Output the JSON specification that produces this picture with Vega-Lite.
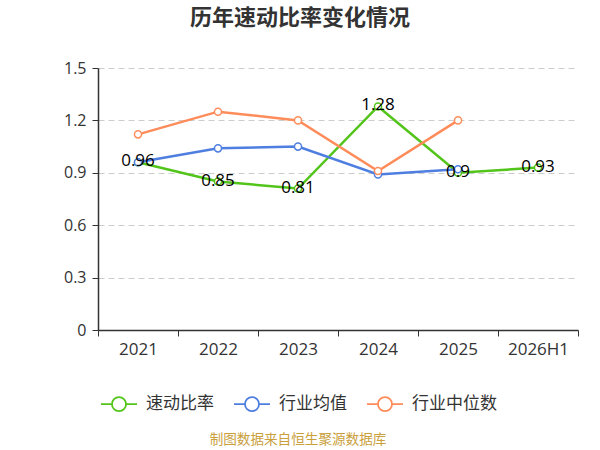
{
  "$schema": "https://vega.github.io/schema/vega-lite/v6.json",
  "width": 480,
  "height": 262,
  "autosize": "none",
  "padding": {"left": 98, "top": 68, "right": 22, "bottom": 120},
  "background": "white",
  "title": {
    "text": "历年速动比率变化情况",
    "fontSize": 22,
    "fontWeight": "bold",
    "color": "#333333",
    "font": "Noto Sans CJK SC",
    "anchor": "middle",
    "dx": -38,
    "offset": 30
  },
  "config": {
    "font": "Noto Sans CJK SC",
    "view": {"stroke": null}
  },
  "data": {
    "values": [
      {"year": "2021", "series": "速动比率", "value": 0.96},
      {"year": "2022", "series": "速动比率", "value": 0.85},
      {"year": "2023", "series": "速动比率", "value": 0.81},
      {"year": "2024", "series": "速动比率", "value": 1.28},
      {"year": "2025", "series": "速动比率", "value": 0.9},
      {"year": "2026H1", "series": "速动比率", "value": 0.93},
      {"year": "2021", "series": "行业均值", "value": 0.96},
      {"year": "2022", "series": "行业均值", "value": 1.04},
      {"year": "2023", "series": "行业均值", "value": 1.05},
      {"year": "2024", "series": "行业均值", "value": 0.89},
      {"year": "2025", "series": "行业均值", "value": 0.92},
      {"year": "2021", "series": "行业中位数", "value": 1.12},
      {"year": "2022", "series": "行业中位数", "value": 1.25},
      {"year": "2023", "series": "行业中位数", "value": 1.2},
      {"year": "2024", "series": "行业中位数", "value": 0.91},
      {"year": "2025", "series": "行业中位数", "value": 1.2}
    ]
  },
  "encoding": {
    "x": {
      "field": "year",
      "type": "ordinal",
      "bandPosition": 0.5,
      "scale": {"type": "band", "paddingInner": 0, "paddingOuter": 0},
      "axis": {
        "title": null,
        "labelAngle": 0,
        "labelFont": "Open Sans",
        "labelFontSize": 17,
        "labelColor": "#333333",
        "labelPadding": 5,
        "tickBand": "extent",
        "tickSize": 6,
        "tickColor": "#333333",
        "domainColor": "#333333",
        "domainWidth": 1.5,
        "grid": false
      }
    },
    "y": {
      "field": "value",
      "type": "quantitative",
      "scale": {"domain": [0, 1.5], "nice": false},
      "axis": {
        "title": null,
        "values": [0, 0.3, 0.6, 0.9, 1.2, 1.5],
        "format": ".1~f",
        "labelFont": "Open Sans",
        "labelFontSize": 16,
        "labelColor": "#333333",
        "labelPadding": 6,
        "tickSize": 6,
        "tickColor": "#333333",
        "domainColor": "#333333",
        "domainWidth": 1.5,
        "grid": true,
        "gridDash": [6, 4],
        "gridColor": "#cccccc"
      }
    },
    "color": {
      "field": "series",
      "type": "nominal",
      "scale": {
        "domain": ["速动比率", "行业均值", "行业中位数"],
        "range": ["#52c41a", "#4e7ee0", "#fe8c5b"]
      },
      "legend": {
        "orient": "none",
        "legendX": 2,
        "legendY": 317,
        "direction": "horizontal",
        "padding": 0,
        "title": "制图数据来自恒生聚源数据库",
        "titleOrient": "bottom",
        "titleAnchor": "middle",
        "titleFontSize": 13.6,
        "titleFontWeight": "normal",
        "titleColor": "#c9a03c",
        "titlePadding": 18,
        "labelFontSize": 17,
        "labelColor": "#333333",
        "labelOffset": 8,
        "columnPadding": 16,
        "symbolType": "M-1,0H-0.39M0.39,0A0.39,0.39 0 1,1 -0.39,0A0.39,0.39 0 1,1 0.39,0M0.39,0H1",
        "symbolSize": 1296,
        "symbolStrokeWidth": 1.8,
        "symbolFillColor": "white"
      }
    }
  },
  "layer": [
    {
      "mark": {"type": "line", "strokeWidth": 2.5}
    },
    {
      "mark": {"type": "point", "filled": false, "fill": "white", "size": 50, "strokeWidth": 1.5, "opacity": 1}
    },
    {
      "transform": [{"filter": "datum.series === '速动比率'"}],
      "mark": {"type": "text", "font": "Open Sans", "fontSize": 17, "baseline": "middle", "dy": -1},
      "encoding": {
        "text": {"field": "value", "type": "quantitative"},
        "color": {"value": "#000000"}
      }
    }
  ]
}
